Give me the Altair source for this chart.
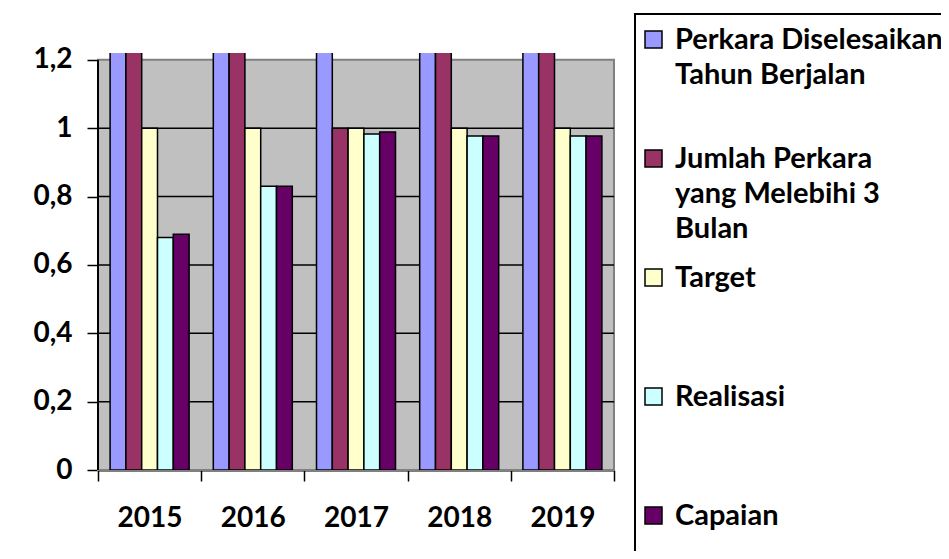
import altair as alt
import pandas as pd
import json

years = ["2015", "2016", "2017", "2018", "2019"]
series = [
    "Perkara Diselesaikan Tahun Berjalan",
    "Jumlah Perkara yang Melebihi 3 Bulan",
    "Target",
    "Realisasi",
    "Capaian",
]
# legend text wrapped as in the original (blank trailing lines keep the box open at the bottom)
legend_lines = [
    ["Perkara Diselesaikan", "Tahun Berjalan"],
    ["Jumlah Perkara", "yang Melebihi 3", "Bulan"],
    ["Target"],
    ["Realisasi"],
    ["Capaian", "", ""],
]
colors = ["#9999FF", "#993366", "#FFFFCC", "#CCFFFF", "#660066"]

# values above 1.2 run off the top of the axis (clipped as in the original)
perkara = [1.3, 1.3, 1.3, 1.3, 1.3]
jumlah = [1.3, 1.3, 1.0, 1.3, 1.3]
target = [1.0, 1.0, 1.0, 1.0, 1.0]
realisasi = [0.68, 0.83, 0.983, 0.977, 0.977]
capaian = [0.69, 0.83, 0.989, 0.977, 0.977]

y_ticks = [0, 0.2, 0.4, 0.6, 0.8, 1.0, 1.2]
grid_vals = [0.2, 0.4, 0.6, 0.8, 1.0]

rows = []
for s, vals in zip(series, [perkara, jumlah, target, realisasi, capaian]):
    for yr, v in zip(years, vals):
        rows.append({"year": yr, "series": s, "value": v})
df = pd.DataFrame(rows)

FONT = "Lato"
FS = 28
LFS = 29
y_scale = alt.Scale(domain=[0, 1.22], nice=False, zero=True)

# label expression for multi-line legend entries
expr = "''"
for s, lines in reversed(list(zip(series, legend_lines))):
    expr = f"datum.label == {json.dumps(s)} ? {json.dumps(lines)} : ({expr})"

bg = alt.Chart(pd.DataFrame({"top": [1.2], "bottom": [0]})).mark_rect(
    color="#C0C0C0", stroke="#808080", strokeWidth=2
).encode(y=alt.Y("top:Q", scale=y_scale), y2="bottom:Q")

grid = alt.Chart(pd.DataFrame({"g": grid_vals})).mark_rule(
    color="black", strokeWidth=1.5
).encode(y=alt.Y("g:Q", scale=y_scale))

bars = alt.Chart(df).mark_bar(stroke="black", strokeWidth=1.5, clip=True).encode(
    x=alt.X(
        "year:N",
        sort=years,
        scale=alt.Scale(paddingInner=0, paddingOuter=0),
        axis=alt.Axis(
            title=None,
            labelAngle=0,
            labelFont=FONT,
            labelFontSize=FS,
            labelFontWeight="bold",
            labelColor="black",
            labelPadding=23,
            tickBand="extent",
            tickSize=11,
            tickColor="black",
            tickWidth=1.5,
            domainColor="black",
            domainWidth=2,
        ),
    ),
    xOffset=alt.XOffset(
        "series:N",
        sort=series,
        scale=alt.Scale(paddingInner=0, paddingOuter=0.766),
    ),
    y=alt.Y(
        "value:Q",
        scale=y_scale,
        axis=alt.Axis(
            title=None,
            values=y_ticks,
            grid=False,
            domain=False,
            labelExpr="replace(format(datum.value, '.1~f'), '.', ',')",
            labelFont=FONT,
            labelFontSize=FS,
            labelFontWeight="bold",
            labelColor="black",
            labelPadding=15,
            tickSize=11,
            tickColor="black",
            tickWidth=1.5,
        ),
    ),
    color=alt.Color(
        "series:N",
        sort=series,
        scale=alt.Scale(domain=series, range=colors),
        legend=alt.Legend(
            title=" ",
            titleFontSize=4,
            titlePadding=3,
            orient="none",
            legendX=537,
            legendY=-39,
            direction="vertical",
            columns=1,
            gridAlign="all",
            symbolType="square",
            symbolSize=289,
            symbolStrokeColor="black",
            symbolStrokeWidth=1.5,
            symbolOpacity=1,
            labelFont=FONT,
            labelFontSize=LFS,
            labelFontWeight="bold",
            labelColor="black",
            labelLimit=600,
            labelOffset=7,
            labelBaseline="middle",
            labelExpr=expr,
            rowPadding=19,
            padding=4,
            strokeColor="black",
            fillColor="white",
        ),
    ),
)

axis_line = alt.Chart(pd.DataFrame({"a": [0], "b": [1.2]})).mark_rule(
    color="black", strokeWidth=2
).encode(x=alt.value(0), y=alt.Y("a:Q", scale=y_scale), y2="b:Q")

chart = (
    alt.layer(bg, grid, bars, axis_line)
    .properties(
        width=516,
        height=417,
        autosize=alt.AutoSizeParams(type="none"),
        padding={"left": 90, "top": 45, "right": 327, "bottom": 81},
        background="white",
    )
    .configure(style={"guide-label": {"lineHeight": 35}})
    .configure_view(stroke=None)
    .configure_legend(strokeWidth=2)
)

chart.save("out.html", embed_options={"renderer": "svg", "actions": False})
